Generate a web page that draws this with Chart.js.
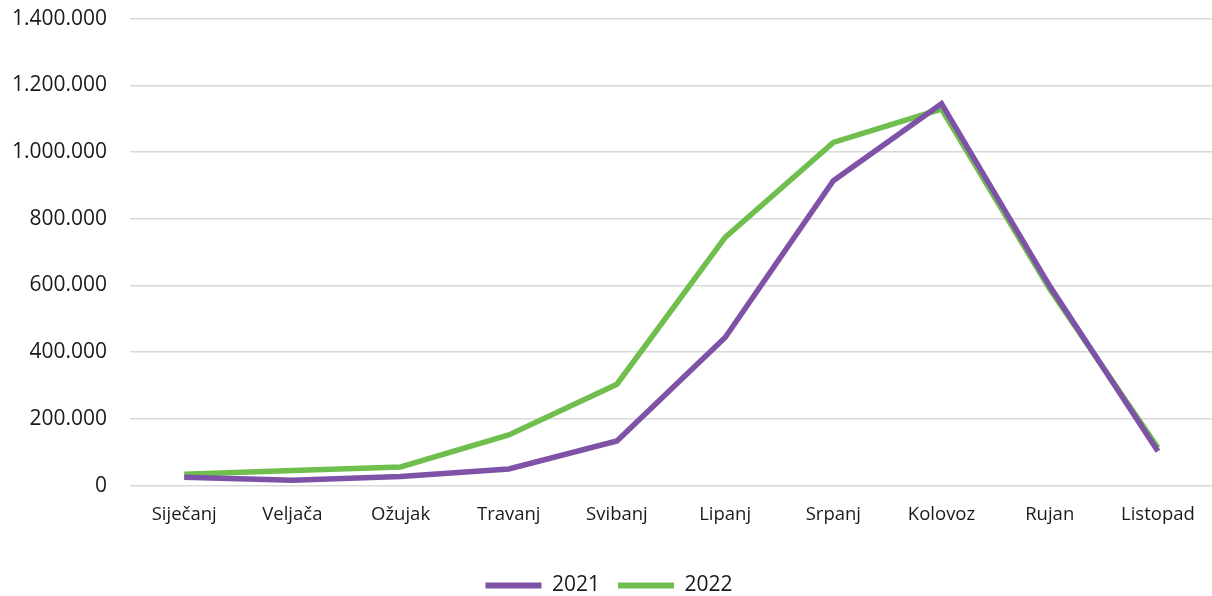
<!DOCTYPE html>
<html>
<head>
<meta charset="utf-8">
<script src="https://cdn.jsdelivr.net/npm/chart.js@4"></script>
<style>
  html, body { margin: 0; padding: 0; background: #fff; }
  #wrap { width: 1212px; height: 596px; }
</style>
</head>
<body>
<div id="wrap"><canvas id="myChart"></canvas></div>
<script>
const months = ['Siječanj', 'Veljača', 'Ožujak', 'Travanj', 'Svibanj', 'Lipanj', 'Srpanj', 'Kolovoz', 'Rujan', 'Listopad'];
const values2021 = [25000, 16000, 27000, 50000, 134000, 444000, 914000, 1145000, 598000, 103000];
const values2022 = [34000, 45000, 56000, 152000, 304000, 744000, 1029000, 1129000, 589000, 113000];
const seriesNames = ['2021', '2022'];
const seriesColors = ['#7e52a6', '#70bf4e'];

function fmt(v) {
    return String(v).replace(/\B(?=(\d{3})+(?!\d))/g, '.');
}

function drawChart() {
    var ctx = document.getElementById('myChart').getContext('2d');
    new Chart(ctx, {
        type: 'line',
        data: {
            labels: months,
            datasets: [{
                label: seriesNames[0],
                data: values2021,
                borderColor: seriesColors[0],
                backgroundColor: seriesColors[0],
                borderWidth: 5.5,
                pointRadius: 0,
                tension: 0
            }, {
                label: seriesNames[1],
                data: values2022,
                borderColor: seriesColors[1],
                backgroundColor: seriesColors[1],
                borderWidth: 5.5,
                pointRadius: 0,
                tension: 0
            }]
        },
        options: {
            responsive: true,
            maintainAspectRatio: false,
            animation: false,
            layout: { padding: { left: 6, right: 0, top: 0, bottom: -10 } },
            scales: {
                x: {
                    offset: true,
                    grid: { display: false },
                    border: { display: false },
                    ticks: { color: '#1a1a1a', font: { family: 'Open Sans', size: 18.5 }, padding: 10.5 },
                    title: { display: true, text: ' ', font: { size: 1 }, padding: { top: 0, bottom: 19 } }
                },
                y: {
                    min: 0,
                    max: 1400000,
                    ticks: {
                        stepSize: 200000,
                        color: '#1a1a1a',
                        font: { family: 'Open Sans', size: 21 },
                        padding: 6,
                        callback: function (v) { return fmt(v); }
                    },
                    grid: { color: '#d9d9d9', lineWidth: 1.5, drawTicks: true, tickLength: 17, tickColor: 'rgba(0,0,0,0)' },
                    border: { display: false }
                }
            },
            plugins: {
                tooltip: { enabled: false },
                legend: {
                    position: 'bottom',
                    labels: {
                        color: '#1a1a1a',
                        font: { family: 'Open Sans', size: 21 },
                        boxWidth: 56,
                        boxHeight: 6,
                        padding: 18,
                        generateLabels: function (chart) {
                            return chart.data.datasets.map(function (ds, i) {
                                return {
                                    text: ds.label,
                                    fillStyle: ds.borderColor,
                                    strokeStyle: ds.borderColor,
                                    lineWidth: 0,
                                    fontColor: '#1a1a1a',
                                    datasetIndex: i
                                };
                            });
                        }
                    }
                }
            }
        }
    });
}

drawChart();
</script>
</body>
</html>
